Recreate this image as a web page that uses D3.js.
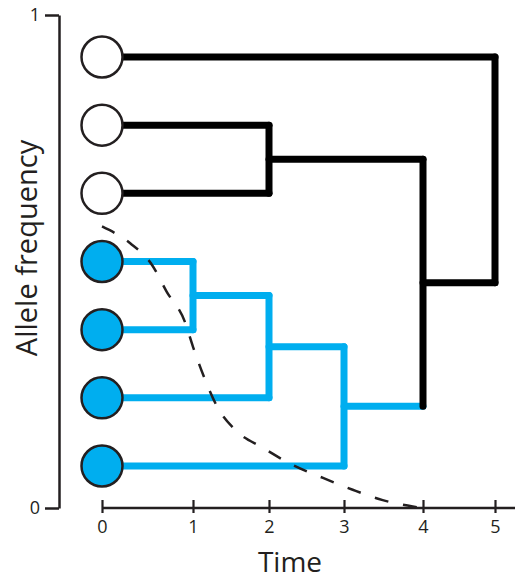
<!DOCTYPE html>
<html>
<head>
<meta charset="utf-8">
<script src="https://cdn.jsdelivr.net/npm/d3@7"></script>
<style>
  html, body { margin: 0; padding: 0; background: #fff; }
  svg { display: block; font-family: "Open Sans", "Noto Sans", sans-serif; }
</style>
</head>
<body>
<svg id="chart" width="515" height="581"></svg>
<script>
// ---- data ----
const tips = ["A", "B", "C", "D", "E", "F", "G"];
const tipState = ["ancestral", "ancestral", "ancestral", "derived", "derived", "derived", "derived"];
const mergeChildren = [["D", "E"], ["DE", "F"], ["DEF", "G"], ["B", "C"], ["BC", "DEFG"], ["A", "BCDEFG"]];
const mergeTimes = [1, 2, 3, 2, 4, 5];
const timeTicks = [0, 1, 2, 3, 4, 5];
const freqTicks = [0, 1];
const curveTime = [0, 0.31, 0.55, 0.71, 0.91, 1.0, 1.16, 1.32, 1.56, 1.92, 2.32, 2.72, 3.11, 3.49, 3.87, 4.0];
const curveFreq = [0.571, 0.537, 0.493, 0.439, 0.378, 0.327, 0.260, 0.205, 0.158, 0.122, 0.087, 0.061, 0.037, 0.016, 0.003, 0.0];

const BLUE = "#00aeef", INK = "#231f20";

const svg = d3.select("#chart");

// scales
const x = d3.scaleLinear().domain(timeTicks).range([102, 193, 269, 344, 423, 495]);
const y = d3.scaleLinear().domain([0, 1]).range([508, 15]);
const tipY = d3.scalePoint().domain(tips).range([57, 466]);

// build tree nodes
const nodes = {};
tips.forEach((t, i) => { nodes[t] = { name: t, t: 0, y: tipY(t), derived: tipState[i] === "derived" }; });
mergeChildren.forEach((ch, i) => {
  const kids = ch.map(c => nodes[c]);
  const name = ch.join("");
  nodes[name] = { name, t: mergeTimes[i], y: d3.mean(kids, k => k.y), derived: kids.every(k => k.derived), kids };
  kids.forEach(k => k.parent = nodes[name]);
});
const all = Object.values(nodes);
const color = n => n.derived ? BLUE : "#000";

// axes
const xAxis = svg.append("g").attr("transform", `translate(0,${y(0)})`)
  .call(d3.axisBottom(x).tickValues(timeTicks).tickSize(5).tickSizeOuter(0).tickFormat(d3.format("d")));
xAxis.select(".domain").remove();
xAxis.append("line").attr("x1", x(0)).attr("x2", 515).attr("y1", 0).attr("y2", 0)
  .attr("stroke", INK).attr("stroke-width", 2.5);
xAxis.selectAll(".tick line").attr("y1", -8).attr("y2", 5).attr("stroke", INK).attr("stroke-width", 2.2);
xAxis.selectAll(".tick text").attr("y", 25).attr("dy", 0).attr("fill", INK)
  .style("font-size", "18px").style("font-family", "'Open Sans', sans-serif");

const yAxis = svg.append("g").attr("transform", "translate(59,0)")
  .call(d3.axisLeft(y).tickValues(freqTicks).tickSize(14).tickSizeOuter(0).tickPadding(5).tickFormat(d3.format("d")));
yAxis.select(".domain").attr("stroke", INK).attr("stroke-width", 2.5);
yAxis.selectAll(".tick line").attr("stroke", INK).attr("stroke-width", 2.5);
yAxis.selectAll(".tick text").attr("fill", INK)
  .style("font-size", "18px").style("font-family", "'Open Sans', sans-serif");

// axis titles
svg.append("text").attr("x", 290).attr("y", 572).attr("text-anchor", "middle")
  .attr("fill", INK).style("font-size", "28px").text("Time");
svg.append("text").attr("transform", "translate(37,248) rotate(-90)").attr("text-anchor", "middle")
  .attr("fill", INK).style("font-size", "29px").text("Allele frequency");

// tree: horizontal stems (child colour)
const tree = svg.append("g").attr("fill", "none").attr("stroke-width", 7)
  .attr("stroke-linecap", "round").attr("stroke-linejoin", "round");
tree.selectAll("line.h").data(all.filter(n => n.parent)).join("line").attr("class", "h")
  .attr("x1", d => x(d.t)).attr("x2", d => x(d.parent.t))
  .attr("y1", d => d.y).attr("y2", d => d.y).attr("stroke", color);
// vertical bars (node colour)
tree.selectAll("line.v").data(all.filter(n => n.kids)).join("line").attr("class", "v")
  .attr("x1", d => x(d.t)).attr("x2", d => x(d.t))
  .attr("y1", d => d3.min(d.kids, k => k.y)).attr("y2", d => d3.max(d.kids, k => k.y))
  .attr("stroke", color);

// dashed frequency curve
const curvePts = curveTime.map((t, i) => [t, curveFreq[i]]);
svg.append("path").datum(curvePts)
  .attr("d", d3.line().x(d => x(d[0])).y(d => y(d[1])).curve(d3.curveMonotoneX))
  .attr("fill", "none").attr("stroke", INK).attr("stroke-width", 2.5)
  .attr("stroke-dasharray", "14,15");

// tip circles
svg.selectAll("circle.tip").data(tips.map(t => nodes[t])).join("circle").attr("class", "tip")
  .attr("cx", d => x(d.t)).attr("cy", d => d.y).attr("r", 20.5)
  .attr("fill", d => d.derived ? BLUE : "#fff").attr("stroke", INK).attr("stroke-width", 2.5);
</script>
</body>
</html>
